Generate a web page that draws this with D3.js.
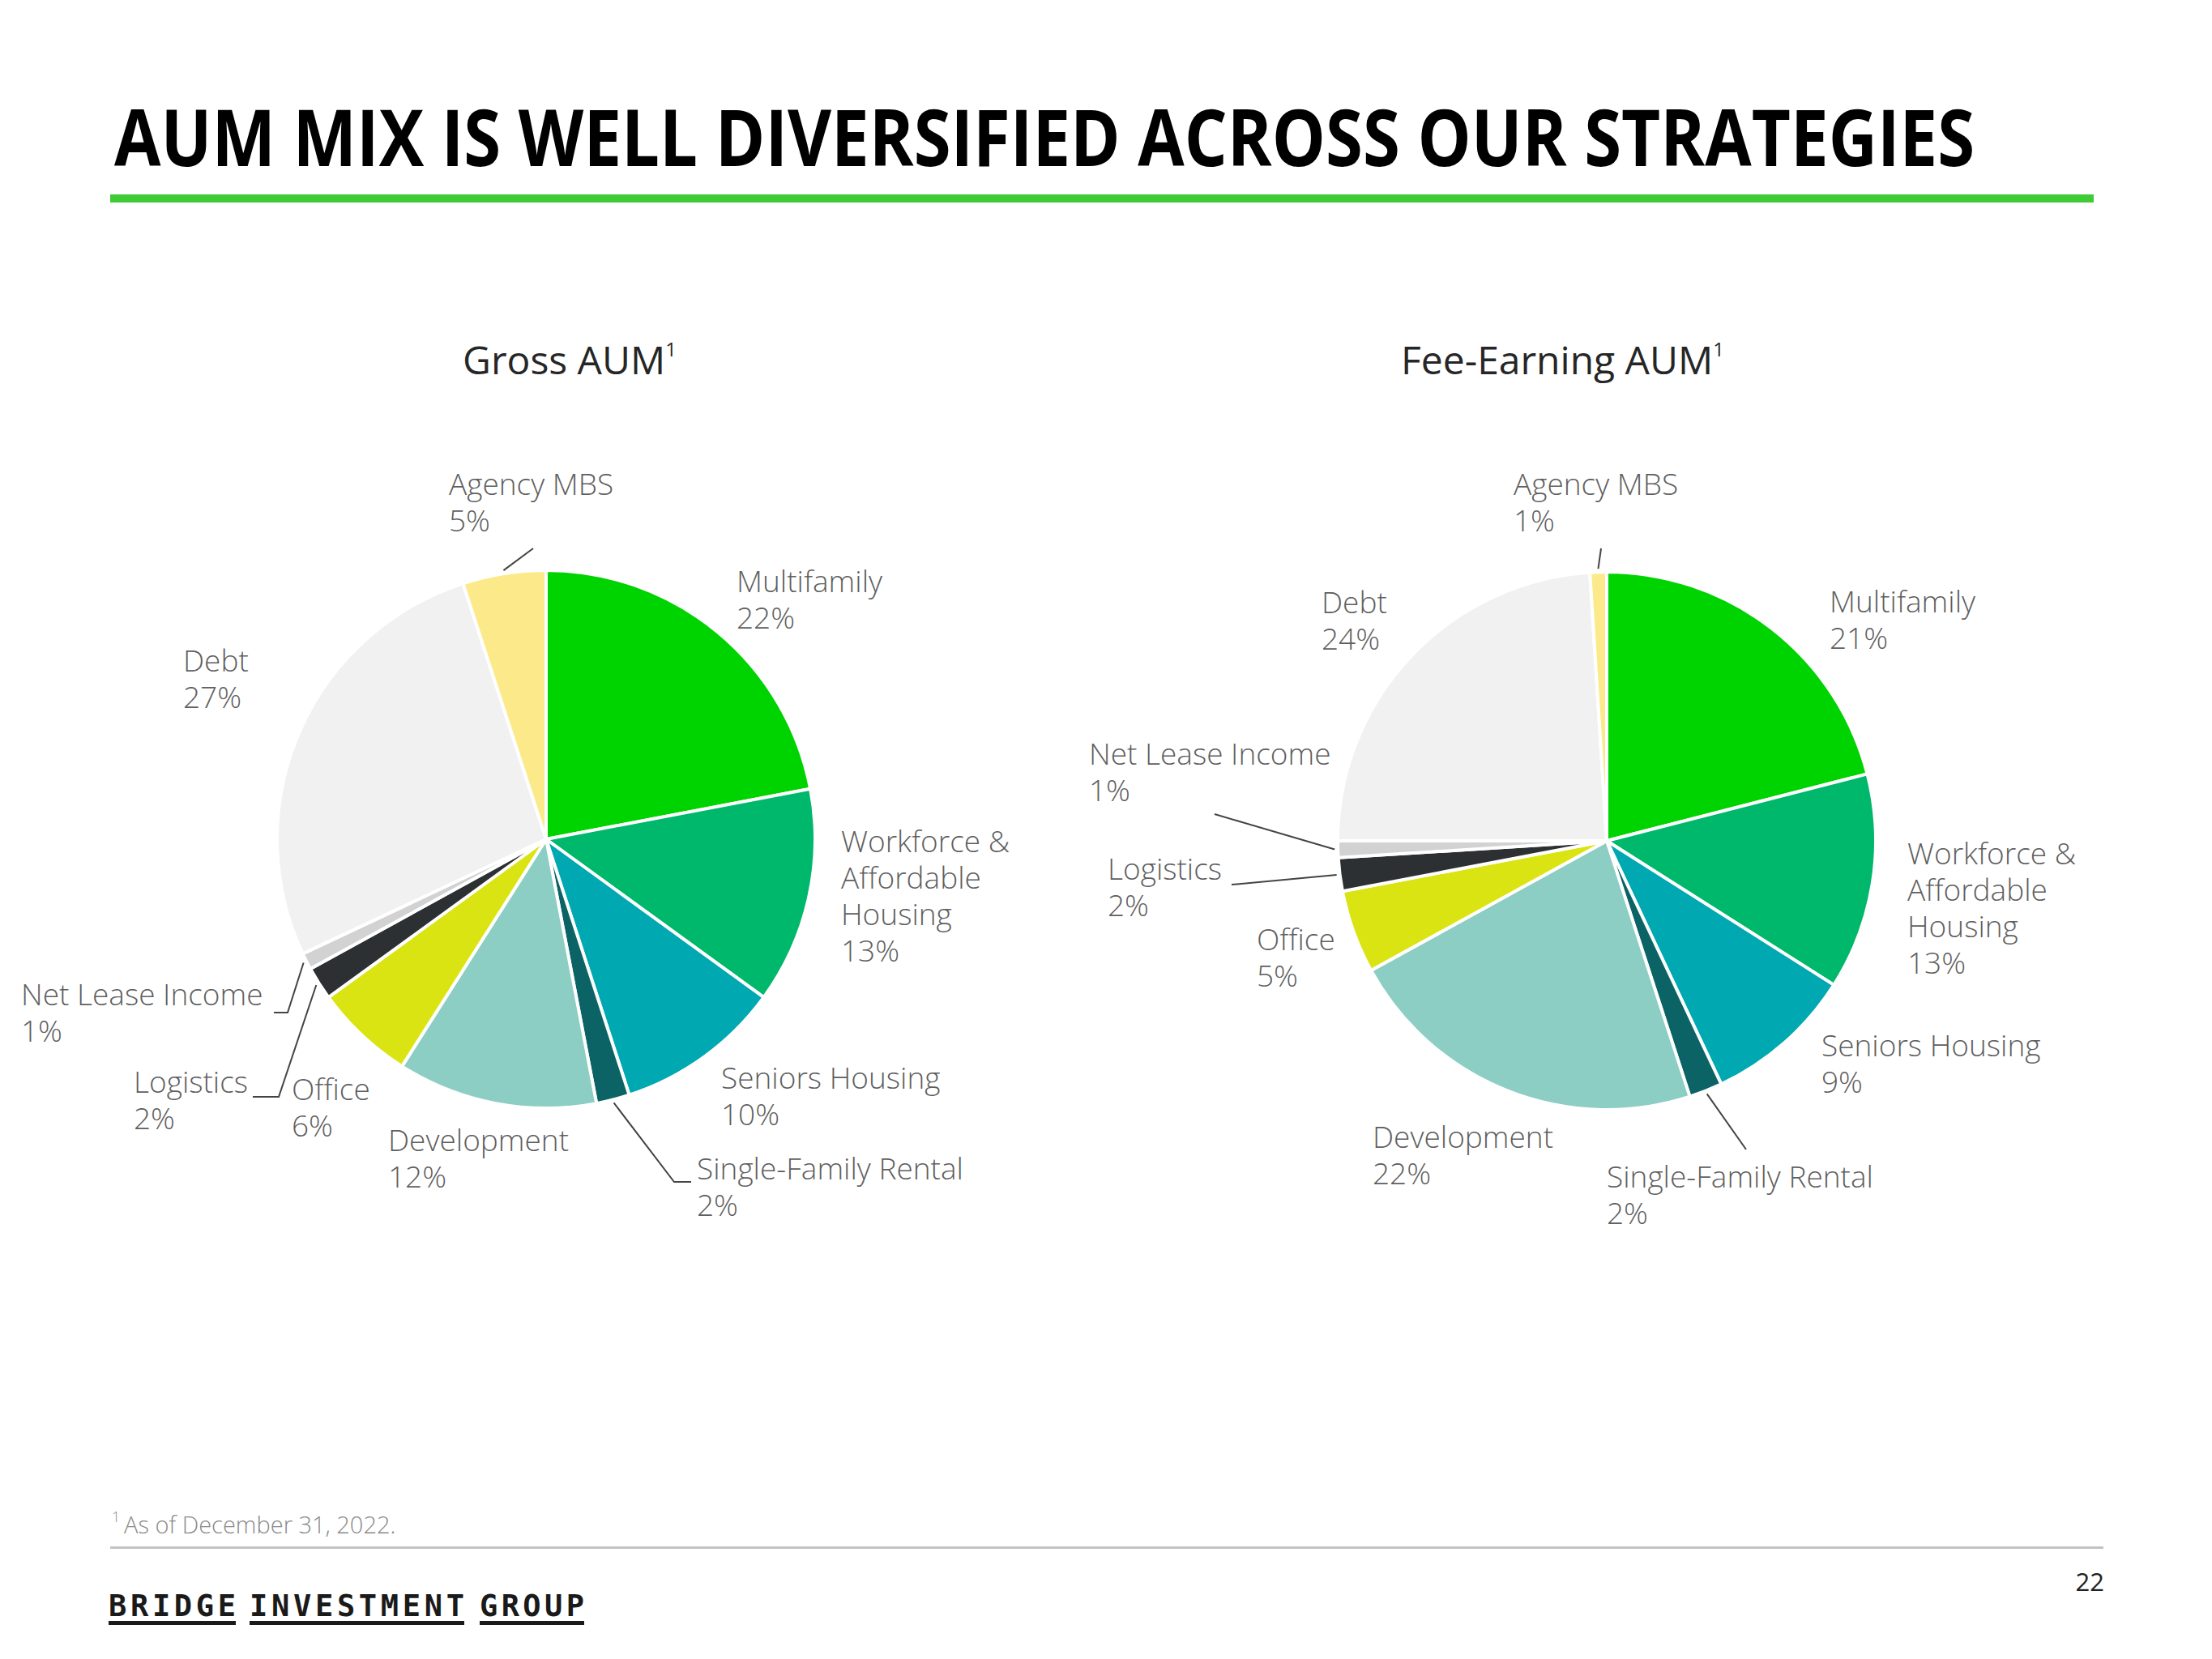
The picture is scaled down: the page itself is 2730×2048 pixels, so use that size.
<!DOCTYPE html>
<html><head><meta charset="utf-8">
<script src="https://cdn.jsdelivr.net/npm/d3@7"></script>
<style>
html,body{margin:0;padding:0;background:#fff;}
svg text{font-family:"Open Sans",sans-serif;}
</style></head>
<body><svg id="c" width="2730" height="2048"></svg>
<script>
// ---------- DATA ----------
const categories = ["Multifamily","Workforce & Affordable Housing","Seniors Housing","Single-Family Rental","Development","Office","Logistics","Net Lease Income","Debt","Agency MBS"];
const grossValues = [22,13,10,2,12,6,2,1,27,5];
const feeValues   = [21,13,9,2,22,5,2,1,24,1];
const chartTitles = ["Gross AUM","Fee-Earning AUM"];
const colors = ["#00d400","#00b86b","#00a8b2","#0b6366","#8ccec3","#dbe413","#2c3033","#d2d2d2","#f1f1f1","#fcea8a"];

// ---------- LAYOUT (label positions, not data) ----------
const svg=d3.select("#c");
const labelColor="#5f5f5f";
const lh=45;

const labelLines = {
  "Workforce & Affordable Housing":["Workforce &","Affordable","Housing"]
};

const pies=[
 {cx:674,cy:1036,r:332,values:grossValues,title:chartTitles[0],titleX:571,titleY:462,
  labels:{
   "Agency MBS":{x:554,y:611},
   "Multifamily":{x:909,y:731},
   "Debt":{x:226,y:829},
   "Workforce & Affordable Housing":{x:1038,y:1052},
   "Net Lease Income":{x:26,y:1241},
   "Logistics":{x:165,y:1349},
   "Office":{x:360,y:1358},
   "Development":{x:479,y:1421},
   "Seniors Housing":{x:890,y:1344},
   "Single-Family Rental":{x:860,y:1456}
  },
  leaders:{
   "Agency MBS":[[658,677]],
   "Net Lease Income":[[355,1250],[338,1250]],
   "Logistics":[[344,1354],[312,1354]],
   "Single-Family Rental":[[832,1459],[853,1459]]
  }},
 {cx:1983,cy:1038,r:332,values:feeValues,title:chartTitles[1],titleX:1729,titleY:462,
  labels:{
   "Agency MBS":{x:1868,y:611},
   "Multifamily":{x:2258,y:756},
   "Debt":{x:1631,y:757},
   "Net Lease Income":{x:1344,y:944},
   "Logistics":{x:1367,y:1086},
   "Office":{x:1551,y:1173},
   "Workforce & Affordable Housing":{x:2354,y:1067},
   "Seniors Housing":{x:2248,y:1304},
   "Development":{x:1694,y:1417},
   "Single-Family Rental":{x:1983,y:1466}
  },
  leaders:{
   "Agency MBS":[[1976,677]],
   "Net Lease Income":[[1499,1005]],
   "Logistics":[[1520,1092]],
   "Single-Family Rental":[[2155,1419]]
  }}
];

// ---------- HEADER ----------
svg.append("text").attr("x",141).attr("y",205)
  .style("font-weight",700).style("font-size","96px").attr("fill","#000")
  .attr("textLength",2296).attr("lengthAdjust","spacingAndGlyphs")
  .text("AUM MIX IS WELL DIVERSIFIED ACROSS OUR STRATEGIES");
svg.append("rect").attr("x",136).attr("y",240).attr("width",2448).attr("height",10).attr("fill","#3fcb36");

// ---------- PIES ----------
const pie=d3.pie().sort(null).value(d=>d.v).startAngle(0).endAngle(2*Math.PI);
pies.forEach(p=>{
  const g=svg.append("g").attr("transform",`translate(${p.cx},${p.cy})`);
  const data=categories.map((c,i)=>({c,v:p.values[i],col:colors[i]}));
  const arcs=pie(data);
  const arc=d3.arc().innerRadius(0).outerRadius(p.r);
  g.selectAll("path").data(arcs).enter().append("path")
    .attr("d",arc).attr("fill",d=>d.data.col)
    .attr("stroke","#fff").attr("stroke-width",4).attr("stroke-linejoin","round");

  const edge=d3.arc().innerRadius(p.r+4).outerRadius(p.r+4);
  arcs.forEach(a=>{
    const L=p.leaders[a.data.c]; if(!L) return;
    const s=edge.centroid(a);
    const pts=[[p.cx+s[0],p.cy+s[1]]].concat(L);
    svg.append("path").attr("d",d3.line()(pts)).attr("fill","none")
      .attr("stroke","#444").attr("stroke-width",2);
  });

  arcs.forEach(a=>{
    const pos=p.labels[a.data.c];
    const lines=(labelLines[a.data.c]||[a.data.c]).concat([a.data.v+"%"]);
    const t=svg.append("text").attr("x",pos.x).attr("y",pos.y)
      .attr("fill",labelColor).style("font-size","37px").style("font-weight",300);
    lines.forEach((ln,i)=>t.append("tspan").attr("x",pos.x).attr("y",pos.y+i*lh).text(ln));
  });

  const tt=svg.append("text").attr("x",p.titleX).attr("y",p.titleY)
    .attr("fill","#262626").style("font-size","48px").style("font-weight",400);
  tt.append("tspan").text(p.title);
  tt.append("tspan").attr("dy",-22).style("font-size","24px").text("1");
});

// ---------- FOOTER ----------
const fn=svg.append("text").attr("x",138).attr("y",1893).attr("fill","#8a8a8a").style("font-weight",300);
fn.append("tspan").attr("dy",-14).style("font-size","18px").text("1");
fn.append("tspan").attr("x",153).attr("dy",14).style("font-size","29px").text("As of December 31, 2022.");
svg.append("rect").attr("x",136).attr("y",1909).attr("width",2460).attr("height",3).attr("fill","#c3c3c3");

const words=[["BRIDGE",134,157],["INVESTMENT",308,265],["GROUP",592,129]];
words.forEach(([w,x,len])=>{
  svg.append("text").attr("x",x).attr("y",1995)
    .style("font-family","'DejaVu Sans Mono',monospace").style("font-weight",700)
    .style("font-size","37px").attr("fill","#1a1a1a")
    .attr("textLength",len).attr("lengthAdjust","spacing").text(w);
  svg.append("rect").attr("x",x).attr("y",2001).attr("width",len).attr("height",5).attr("fill","#1a1a1a");
});
svg.append("text").attr("x",2597).attr("y",1964).attr("text-anchor","end")
  .attr("fill","#222").style("font-size","31px").text("22");
</script></body></html>
